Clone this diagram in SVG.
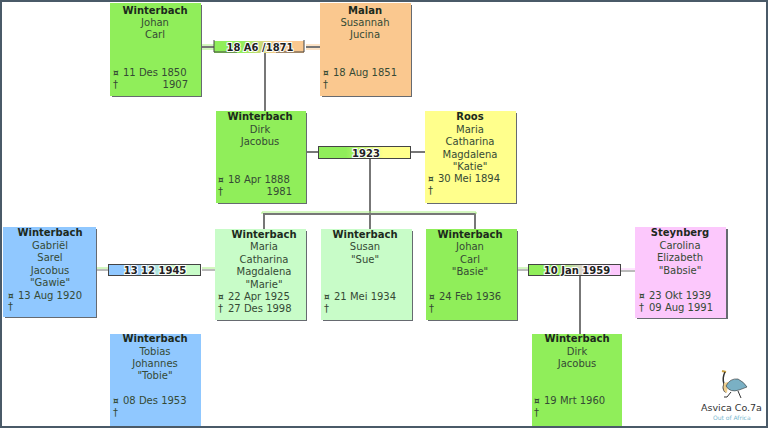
<svg xmlns="http://www.w3.org/2000/svg" width="768" height="428" viewBox="0 0 768 428">
<style>
text{font-family:"DejaVu Sans",Verdana,sans-serif;font-size:10px;fill:#354a35}
.n{text-anchor:middle}
.s{font-weight:bold;fill:#1c2a1c}
.r{text-anchor:end}
.k{font-size:9px;font-weight:bold}
.card{stroke:none}
.sh{fill:#666a70}
.c{stroke:#777;stroke-width:2;fill:none}
.h{fill:none;stroke-width:1}
.m{font-size:10px;font-weight:bold;fill:#222;text-anchor:middle;stroke:#fff;stroke-width:2;paint-order:stroke}
.bar{fill:none;stroke:#444;stroke-width:1}
.g{fill:#90ee5a}.lg{fill:#c8fcc8}.o{fill:#fac88f}.y{fill:#ffff8c}.b{fill:#90c8ff}.p{fill:#fcc8fc}
</style>
<defs>
<linearGradient id="m1"><stop offset=".3" stop-color="#90ee5a"/><stop offset=".7" stop-color="#fac88f"/></linearGradient>
<linearGradient id="m2"><stop offset=".3" stop-color="#90ee5a"/><stop offset=".7" stop-color="#ffff8c"/></linearGradient>
<linearGradient id="m3"><stop offset=".3" stop-color="#90c8ff"/><stop offset=".7" stop-color="#c8fcc8"/></linearGradient>
<linearGradient id="m4"><stop offset=".3" stop-color="#90ee5a"/><stop offset=".7" stop-color="#fcc8fc"/></linearGradient>
</defs>
<rect width="768" height="428" fill="#fff"/>
<rect width="768" height="2" fill="#4a5a68"/>
<rect width="2" height="428" fill="#4a5a68"/>
<rect x="766" width="2" height="428" fill="#4a5a68"/>
<rect y="426" width="768" height="2" fill="#4a5a68"/>

<g id="connectors">
<path class="c" d="M202 47H214M306 47H320M265 53V111M307 152H318M411 152H425M370 159V229M264 229V214H475V229"/>
<path class="c" style="stroke-width:1" d="M97 270H108M202 270H215M518 270H528M621 271H635"/>
<path class="c" d="M580 275V334"/>
<path class="h" stroke="#a8f080" d="M202 45H214M202 49H214M262 214V212H476V214M97 268H108M202 268H215M518 268H528"/>
<path class="h" stroke="#fac88f" d="M306 45H320M306 49H320"/>
<path class="h" stroke="#fcc8fc" d="M621 269H635"/>
</g>

<g id="m-1"><rect x="214" y="41" width="90" height="12" fill="url(#m1)"/><path class="bar" d="M214 40V52H237M304 40V52H276"/><text class="m" x="260" y="50.500">18 A6 /1871</text></g>
<g id="m-2"><rect x="318" y="147" width="93" height="11" fill="url(#m2)"/><rect class="bar" x="318.500" y="146.500" width="92" height="12"/><text class="m" x="366" y="157">1923</text></g>
<g id="m-3"><rect x="108" y="265" width="92" height="10" fill="url(#m3)"/><rect class="bar" x="108.500" y="264.500" width="92" height="11"/><text class="m" x="155" y="274">13 12 1945</text></g>
<g id="m-4"><rect x="529" y="265" width="91" height="10" fill="url(#m4)"/><rect class="bar" x="528.500" y="264.500" width="92" height="11"/><text class="m" x="577" y="274">10 Jan 1959</text></g>

<g id="johan-carl">
<rect class="sh" x="112" y="5" width="90" height="92"/><rect class="card g" x="110" y="3" width="91" height="93"/>
<text class="n s" x="155" y="14">Winterbach</text><text class="n" x="155" y="26">Johan</text><text class="n" x="155" y="38">Carl</text>
<text class="k" x="113" y="76">¤</text><text x="123" y="76">11 Des 1850</text><text x="113" y="88">†</text><text class="r" x="188" y="88">1907</text>
</g>
<g id="susannah-malan">
<rect class="sh" x="322" y="5" width="90" height="92"/><rect class="card o" x="320" y="3" width="91" height="93"/>
<text class="n s" x="365" y="14">Malan</text><text class="n" x="365" y="26">Susannah</text><text class="n" x="365" y="38">Jucina</text>
<text class="k" x="323" y="76">¤</text><text x="333" y="76">18 Aug 1851</text><text x="323" y="88">†</text>
</g>
<g id="dirk-jacobus-sr">
<rect class="sh" x="218" y="113" width="89" height="91"/><rect class="card g" x="216" y="111" width="90" height="92"/>
<text class="n s" x="260" y="120">Winterbach</text><text class="n" x="260" y="133">Dirk</text><text class="n" x="260" y="145">Jacobus</text>
<text class="k" x="218" y="183">¤</text><text x="228" y="183">18 Apr 1888</text><text x="218" y="195">†</text><text class="r" x="292" y="195">1981</text>
</g>
<g id="maria-roos">
<rect class="sh" x="427" y="113" width="90" height="91"/><rect class="card y" x="425" y="111" width="91" height="92"/>
<text class="n s" x="470" y="120">Roos</text><text class="n" x="470" y="133">Maria</text><text class="n" x="470" y="145">Catharina</text><text class="n" x="470" y="158">Magdalena</text><text class="n" x="470" y="170">"Katie"</text>
<text class="k" x="428" y="182">¤</text><text x="438" y="182">30 Mei 1894</text><text x="428" y="194">†</text>
</g>
<g id="gabriel">
<rect class="sh" x="5" y="229" width="92" height="89"/><rect class="card b" x="3" y="227" width="93" height="90"/>
<text class="n s" x="50" y="236">Winterbach</text><text class="n" x="50" y="249">Gabriël</text><text class="n" x="50" y="261">Sarel</text><text class="n" x="50" y="274">Jacobus</text><text class="n" x="50" y="286">"Gawie"</text>
<text class="k" x="8" y="299">¤</text><text x="18" y="299">13 Aug 1920</text><text x="8" y="310">†</text>
</g>
<g id="maria-marie">
<rect class="sh" x="217" y="231" width="90" height="90"/><rect class="card lg" x="215" y="229" width="91" height="91"/>
<text class="n s" x="264" y="238">Winterbach</text><text class="n" x="264" y="250">Maria</text><text class="n" x="264" y="263">Catharina</text><text class="n" x="264" y="275">Magdalena</text><text class="n" x="264" y="288">"Marie"</text>
<text class="k" x="218" y="300">¤</text><text x="228" y="300">22 Apr 1925</text><text x="218" y="312">†</text><text x="228" y="312">27 Des 1998</text>
</g>
<g id="susan">
<rect class="sh" x="323" y="231" width="90" height="90"/><rect class="card lg" x="321" y="229" width="91" height="91"/>
<text class="n s" x="365" y="238">Winterbach</text><text class="n" x="365" y="250">Susan</text><text class="n" x="365" y="263">"Sue"</text>
<text class="k" x="324" y="300">¤</text><text x="334" y="300">21 Mei 1934</text><text x="324" y="312">†</text>
</g>
<g id="johan-basie">
<rect class="sh" x="428" y="231" width="90" height="90"/><rect class="card g" x="426" y="229" width="91" height="91"/>
<text class="n s" x="470" y="238">Winterbach</text><text class="n" x="470" y="250">Johan</text><text class="n" x="470" y="263">Carl</text><text class="n" x="470" y="275">"Basie"</text>
<text class="k" x="429" y="300">¤</text><text x="439" y="300">24 Feb 1936</text><text x="429" y="312">†</text>
</g>
<g id="carolina">
<rect class="sh" x="637" y="229" width="91" height="90"/><rect class="card p" x="635" y="227" width="91" height="91"/>
<text class="n s" x="680" y="236">Steynberg</text><text class="n" x="680" y="249">Carolina</text><text class="n" x="680" y="261">Elizabeth</text><text class="n" x="680" y="274">"Babsie"</text>
<text class="k" x="639" y="299">¤</text><text x="649" y="299">23 Okt 1939</text><text x="639" y="311">†</text><text x="649" y="311">09 Aug 1991</text>
</g>
<g id="tobias">
<rect class="card b" x="110" y="334" width="91" height="92"/>
<text class="n s" x="155" y="342">Winterbach</text><text class="n" x="155" y="355">Tobias</text><text class="n" x="155" y="367">Johannes</text><text class="n" x="155" y="379">"Tobie"</text>
<text class="k" x="113" y="404">¤</text><text x="123" y="404">08 Des 1953</text><text x="113" y="416">†</text>
</g>
<g id="dirk-jacobus-jr">
<rect class="card g" x="532" y="334" width="90" height="92"/>
<text class="n s" x="577" y="342">Winterbach</text><text class="n" x="577" y="355">Dirk</text><text class="n" x="577" y="367">Jacobus</text>
<text class="k" x="534" y="404">¤</text><text x="544" y="404">19 Mrt 1960</text><text x="534" y="416">†</text>
</g>

<g id="logo">
<path d="M726 372L722 371" stroke="#c8a040" stroke-width="2"/>
<path d="M725 372Q722 378 724 384Q722 390 726 392" fill="none" stroke="#333" stroke-width="1.500"/>
<path d="M724 383Q722 391 727 393L728 382Z" fill="#f0d090"/>
<path d="M726 386Q730 378 738 379Q744 382 747 387L739 390Q730 393 726 386Z" fill="#7ab0c4" stroke="#333" stroke-width=".6"/>
<path d="M731 392L727 397H724M738 391L741 398" fill="none" stroke="#333"/>
<text x="701" y="411" style="font-size:9.500px;fill:#333">Asvica Co.7a</text>
<text x="713" y="420" style="font-size:6px;fill:#7ab8d0">Out of Africa</text>
</g>
</svg>
